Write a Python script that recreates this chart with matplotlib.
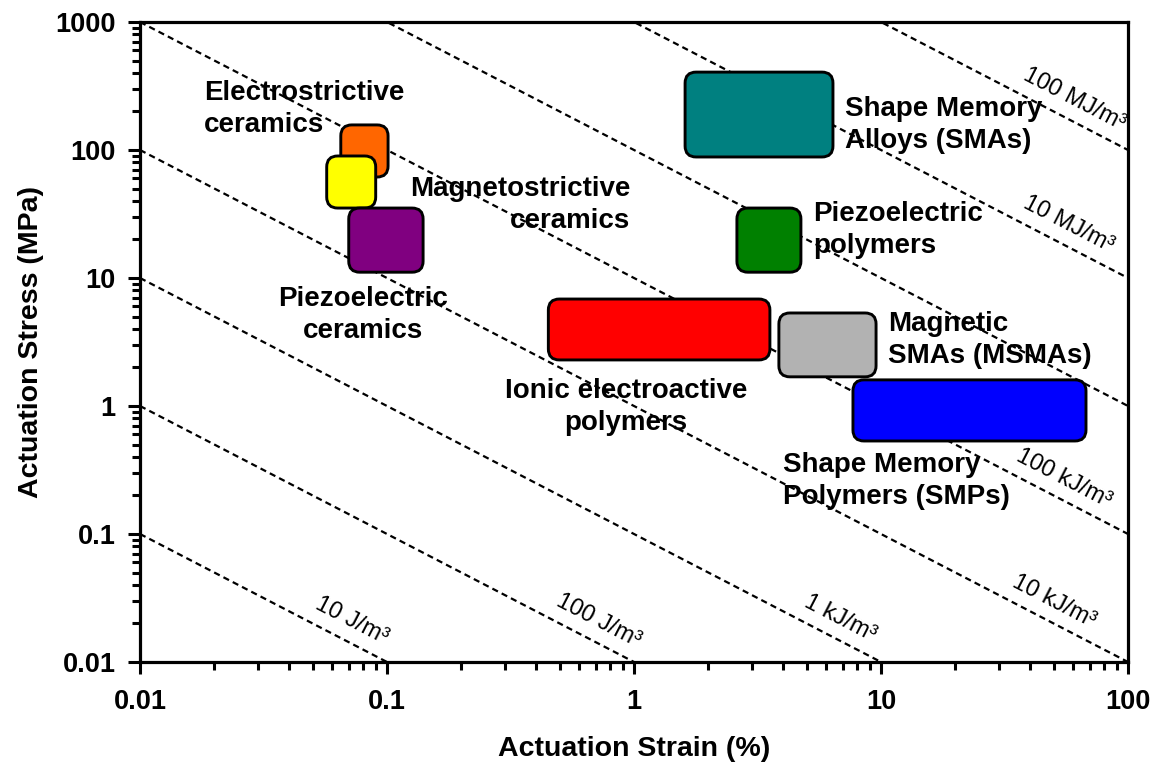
import numpy as np
import matplotlib
matplotlib.use("Agg")
import matplotlib.pyplot as plt
from matplotlib.patches import FancyBboxPatch
from matplotlib.ticker import LogLocator, NullFormatter

# ---------------- data ----------------
materials = ["Electrostrictive ceramics", "Magnetostrictive ceramics", "Piezoelectric ceramics",
             "Shape Memory Alloys", "Piezoelectric polymers", "Ionic electroactive polymers",
             "Magnetic SMAs", "Shape Memory Polymers"]
strain_min = [0.065, 0.057, 0.070, 1.61, 2.61, 0.45, 3.86, 7.7]     # %
strain_max = [0.101, 0.090, 0.140, 6.39, 4.74, 3.55, 9.55, 67.6]    # %
stress_min = [61.5, 35.2, 11.1, 88.2, 11.1, 2.29, 1.69, 0.533]      # MPa
stress_max = [157.0, 89.8, 35.2, 406.0, 35.2, 6.85, 5.33, 1.60]     # MPa
box_colors = ["#FF6600", "#FFFF00", "#800080", "#008080", "#008000",
              "#FF0000", "#B2B2B2", "#0000FF"]

mat_labels = ["Electrostrictive\nceramics", "Magnetostrictive\nceramics", "Piezoelectric\nceramics",
              "Shape Memory\nAlloys (SMAs)", "Piezoelectric\npolymers", "Ionic electroactive\npolymers",
              "Magnetic\nSMAs (MSMAs)", "Shape Memory\nPolymers (SMPs)"]

energy_density = [1e1, 1e2, 1e3, 1e4, 1e5, 1e6, 1e7, 1e8]   # J/m^3
energy_labels = ["10 J/m³", "100 J/m³", "1 kJ/m³", "10 kJ/m³", "100 kJ/m³", "",
                 "10 MJ/m³", "100 MJ/m³"]
energy_label_strain = [0.066, 0.66, 6.3, 46.0, 50.6, None, 52.6, 55.6]

x_ticks = [0.01, 0.1, 1, 10, 100]
x_ticklabels = ["0.01", "0.1", "1", "10", "100"]
y_ticks = [0.01, 0.1, 1, 10, 100, 1000]
y_ticklabels = ["0.01", "0.1", "1", "10", "100", "1000"]

# ---------------- style ----------------
plt.rcParams["font.family"] = ["Liberation Sans", "DejaVu Sans"]
W, H = 1158, 769
fig = plt.figure(figsize=(W / 100, H / 100), dpi=100)
AX_L, AX_R, AX_T, AX_B = 140, 1128, 22, 662
ax = fig.add_axes([AX_L / W, 1 - AX_B / H, (AX_R - AX_L) / W, (AX_B - AX_T) / H])
ax.set_xscale("log")
ax.set_yscale("log")
ax.set_xlim(0.01, 100)
ax.set_ylim(0.01, 1000)

ax.set_xticks(x_ticks)
ax.set_xticklabels(x_ticklabels, fontweight="bold")
ax.set_yticks(y_ticks)
ax.set_yticklabels(y_ticklabels, fontweight="bold")
ax.xaxis.set_minor_locator(LogLocator(base=10, subs=np.arange(2, 10), numticks=30))
ax.yaxis.set_minor_locator(LogLocator(base=10, subs=np.arange(2, 10), numticks=30))
ax.xaxis.set_minor_formatter(NullFormatter())
ax.yaxis.set_minor_formatter(NullFormatter())
ax.tick_params(which="major", direction="out", length=8.5, width=2.2, labelsize=19.5)
ax.tick_params(which="minor", direction="out", length=5.5, width=2.2)
ax.tick_params(axis="x", which="major", pad=11)
ax.tick_params(axis="y", which="major", pad=9)
for s in ax.spines.values():
    s.set_linewidth(2.3)

ax.set_xlabel("Actuation Strain (%)", fontsize=20.5, fontweight="bold")
ax.set_ylabel("Actuation Stress (MPa)", fontsize=20.5, fontweight="bold")
ax.xaxis.set_label_coords(0.5, (AX_B - 736) / (AX_B - AX_T))
ax.yaxis.set_label_coords((44 - AX_L) / (AX_R - AX_L), 0.5)

# ---------------- energy density lines ----------------
strain_grid = np.logspace(-2, 2, 300)
p1 = ax.transData.transform((1, 1))
p2 = ax.transData.transform((10, 0.1))
angle = np.degrees(np.arctan2(p2[1] - p1[1], p2[0] - p1[0]))
off = 14.4  # points, perpendicular offset of labels
nx, ny = -np.sin(np.radians(angle)) * off, np.cos(np.radians(angle)) * off
for E, lab, xl in zip(energy_density, energy_labels, energy_label_strain):
    stress = E * 1e-4 / strain_grid
    ax.plot(strain_grid, stress, color="black", lw=1.6, linestyle=(0, (2.8, 1.9)), zorder=2)
    if lab and xl is not None:
        ax.annotate(lab, xy=(xl, E * 1e-4 / xl), xytext=(nx, ny), textcoords="offset points",
                    rotation=angle, rotation_mode="anchor", ha="center", va="center",
                    fontsize=17, fontweight="normal", zorder=5)

# ---------------- material boxes ----------------
to_axes = ax.transData + ax.transAxes.inverted()
aw, ah = AX_R - AX_L, AX_B - AX_T
r = 11 / aw
for smin, smax, tmin, tmax, c in zip(strain_min, strain_max, stress_min, stress_max, box_colors):
    x0, y0 = to_axes.transform((smin, tmin))
    x1, y1 = to_axes.transform((smax, tmax))
    patch = FancyBboxPatch((x0, y0), x1 - x0, y1 - y0,
                           boxstyle=f"round,pad=0,rounding_size={r}",
                           mutation_aspect=aw / ah, transform=ax.transAxes,
                           facecolor=c, edgecolor="black", linewidth=2.1, zorder=3)
    ax.add_patch(patch)

# ---------------- material labels ----------------
# (x, baseline of last line) in pixels
label_pos_px = [(204, 132), (630, 228), (363, 338), (845, 148),
                (813, 253), (626, 430), (888, 363), (783, 504)]
label_ha = ["left", "right", "center", "left", "left", "center", "left", "left"]
for lab, (px, py), ha in zip(mat_labels, label_pos_px, label_ha):
    fig.text(px / W, 1 - py / H, lab, ha=ha, va="baseline", multialignment=ha,
             fontsize=20, fontweight="bold", linespacing=1.3, zorder=6)

fig.savefig("out.png", dpi=100)
